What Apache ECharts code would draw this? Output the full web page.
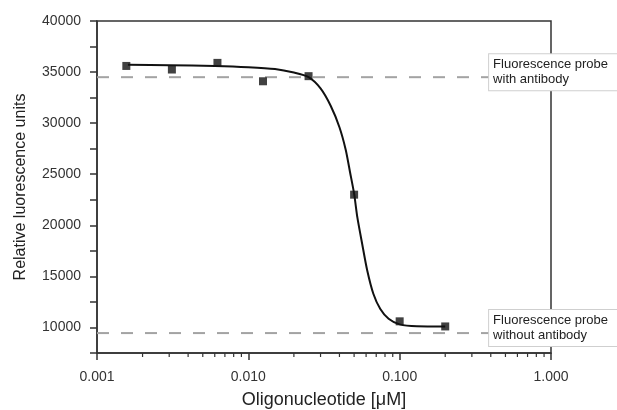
<!DOCTYPE html>
<html><head><meta charset="utf-8">
<script src="https://cdn.jsdelivr.net/npm/echarts@6/dist/echarts.min.js"></script>
<style>html,body{margin:0;padding:0;background:#fff}#c{width:617px;height:410px}</style>
</head><body><div id="c"></div>
<script>
const xTicks = [0.001, 0.01, 0.1, 1];
const xMinorTicks = [0.002, 0.003, 0.004, 0.005, 0.006, 0.007, 0.008, 0.009,
                     0.02, 0.03, 0.04, 0.05, 0.06, 0.07, 0.08, 0.09,
                     0.2, 0.3, 0.4, 0.5, 0.6, 0.7, 0.8, 0.9];
const pointsX = [0.0015625, 0.003125, 0.00625, 0.0125, 0.025, 0.05, 0.1, 0.2];
const pointsY = [35600, 35250, 35900, 34100, 34600, 23000, 10600, 10100];
const curveX = [0.0016, 0.003, 0.006, 0.01, 0.015, 0.02, 0.025, 0.03, 0.035, 0.04, 0.044, 0.047, 0.05, 0.0525, 0.0565, 0.061, 0.067, 0.0745, 0.0845, 0.1, 0.13, 0.2];
const curveY = [35720, 35680, 35600, 35480, 35300, 34950, 34500, 33400, 31700, 29600, 27400, 25200, 23100, 20800, 18200, 15600, 13300, 11800, 10850, 10300, 10120, 10100];
const refWith = 34500;
const refWithout = 9450;
const refX = [0.001, 0.39];
const labelWith = 'Fluorescence probe\nwith antibody';
const labelWithout = 'Fluorescence probe\nwithout antibody';

const chart = echarts.init(document.getElementById('c'));
const font = 'Liberation Sans, Arial, sans-serif';
const Y_MIN = 7500;
function refSeries(y, text) {
  return {
    type: 'line', data: refX.map(x => [x, y]),
    symbol: 'none', silent: true, z: 1,
    lineStyle: {color: '#a3a3a3', width: 2, type: [12, 12]},
    endLabel: {
      show: true, distance: 0, offset: [0, -5], formatter: text,
      fontFamily: font, fontSize: 13, color: '#222', lineHeight: 15,
      backgroundColor: '#fff', borderColor: '#cfcfcf', borderWidth: 1,
      padding: [3, 10, 3, 4], align: 'left'
    }
  };
}
chart.setOption({
  animation: false,
  grid: {left: 97, top: 21, right: 66, bottom: 57, outerBoundsMode: 'none', containLabel: false,
         show: true, borderColor: '#333', borderWidth: 1.5, backgroundColor: 'transparent'},
  xAxis: {
    type: 'log', logBase: 10, min: 0.001, max: 1,
    name: 'Oligonucleotide [\u03bcM]', nameLocation: 'middle', nameGap: 38,
    nameTextStyle: {fontFamily: font, fontSize: 18, color: '#222'},
    axisLine: {lineStyle: {color: '#333', width: 1.5}},
    axisTick: {length: 7, lineStyle: {color: '#333', width: 1.5}},
    minorTick: {show: false},
    splitLine: {show: false},
    axisLabel: {fontFamily: font, fontSize: 14, color: '#333', margin: 17, formatter: v => Number(v).toFixed(3)}
  },
  yAxis: {
    type: 'value', min: Y_MIN, max: 40000, interval: 2500,
    name: 'Relative luorescence units', nameLocation: 'middle', nameGap: 68,
    nameTextStyle: {fontFamily: font, fontSize: 16, color: '#222'},
    axisLine: {show: true, lineStyle: {color: '#333', width: 1.5}},
    axisTick: {show: true, length: 7, lineStyle: {color: '#333', width: 1.5}},
    splitLine: {show: false},
    axisLabel: {fontFamily: font, fontSize: 14, color: '#333', margin: 16, formatter: v => (v % 5000 === 0 ? String(v) : '')}
  },
  series: [
    refSeries(refWith, labelWith),
    refSeries(refWithout, labelWithout),
    {type: 'custom', silent: true, clip: false, z: 5,
     data: xMinorTicks.map(x => [x, Y_MIN]),
     renderItem: (params, api) => {
       const p = api.coord([api.value(0), api.value(1)]);
       return {type: 'line', shape: {x1: p[0], y1: p[1], x2: p[0], y2: p[1] + 4},
               style: {stroke: '#333', lineWidth: 1.2}};
     }},
    {type: 'line', data: curveX.map((x, i) => [x, curveY[i]]), symbol: 'none', smooth: 0.25, z: 3,
     lineStyle: {color: '#111', width: 2}},
    {type: 'scatter', data: pointsX.map((x, i) => [x, pointsY[i]]), symbol: 'rect', symbolSize: 8, z: 4,
     itemStyle: {color: '#111'}}
  ]
});
</script></body></html>
